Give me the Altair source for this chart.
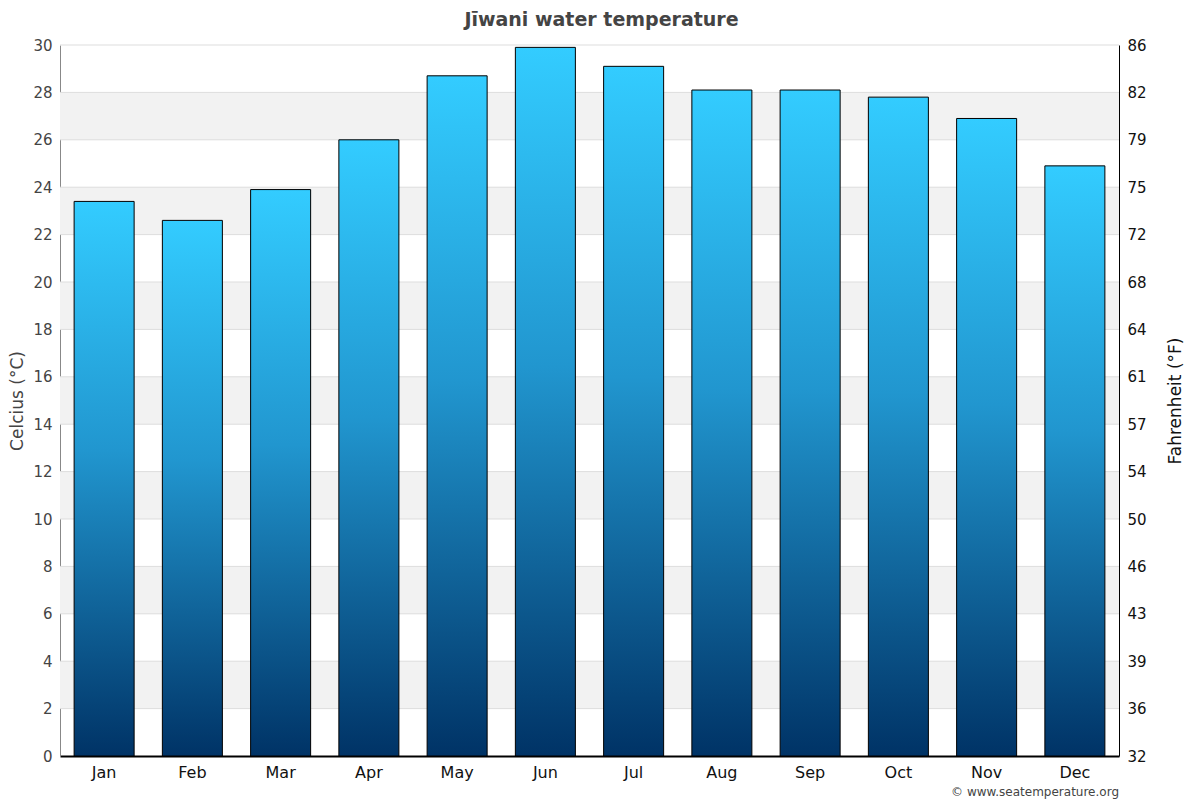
import altair as alt
import pandas as pd

# ── Data ──────────────────────────────────────────────────────────
MONTHS = ["Jan", "Feb", "Mar", "Apr", "May", "Jun",
          "Jul", "Aug", "Sep", "Oct", "Nov", "Dec"]
WATER_C = [23.4, 22.6, 23.9, 26.0, 28.7, 29.9,
           29.1, 28.1, 28.1, 27.8, 26.9, 24.9]
C_TICKS = [0, 2, 4, 6, 8, 10, 12, 14, 16, 18, 20, 22, 24, 26, 28, 30]

# ── Style tokens ──────────────────────────────────────────────────
FONT = "DejaVu Sans"
GREY_TXT = "#444444"
GRID = "#dddddd"
BAND = "#f2f2f2"
W, H = 1059, 711

bars_df = pd.DataFrame({"month": MONTHS, "temp": WATER_C})
band_df = pd.DataFrame({"lo": C_TICKS[1:-1:2], "hi": C_TICKS[2::2]})
grid_df = pd.DataFrame({"tick": C_TICKS[1:]})

y_scale = alt.Scale(domain=[0, 30], nice=False, zero=True)
x_enc = alt.X(
    "month:N",
    sort=MONTHS,
    scale=alt.Scale(paddingInner=0.32, paddingOuter=0.16),
    axis=alt.Axis(
        title=None, labelAngle=0, labelFont=FONT, labelFontSize=16,
        labelColor="#111111", ticks=False, domainColor="#000000",
        domainWidth=2, labelPadding=8,
    ),
)

bands = alt.Chart(band_df).mark_rect(color=BAND).encode(
    x=alt.value(0), x2=alt.value(W),
    y=alt.Y(
        "lo:Q", scale=y_scale,
        axis=alt.Axis(
            title="Celcius (°C)", values=C_TICKS, grid=False, ticks=False,
            labelFont=FONT, labelFontSize=15, labelColor=GREY_TXT,
            titleFont=FONT, titleFontSize=17, titleFontWeight="normal",
            titleColor=GREY_TXT, domainColor="#888888", labelPadding=8,
            titleX=-43, titleY=H / 2, titleBaseline="middle",
            titleAlign="center", titleAngle=270,
        ),
    ),
    y2="hi:Q",
)

gridlines = alt.Chart(grid_df).mark_rule(color=GRID, strokeWidth=1).encode(
    x=alt.value(0), x2=alt.value(W),
    y=alt.Y("tick:Q", scale=y_scale, axis=None),
)

bars = alt.Chart(bars_df).mark_bar(
    stroke="#000000", strokeWidth=1,
    color=alt.Gradient(
        gradient="linear",
        stops=[
            alt.GradientStop(color="#33ccff", offset=0),
            alt.GradientStop(color="#2196cf", offset=0.45),
            alt.GradientStop(color="#003366", offset=1),
        ],
        x1=0, x2=0, y1=0, y2=1,
    ),
).encode(
    x=x_enc,
    y=alt.Y("temp:Q", scale=y_scale, axis=None),
)

# Fahrenheit axis: same Celsius scale, labels converted
right_axis = alt.Chart(grid_df).mark_rule(opacity=0).encode(
    x=alt.value(0), x2=alt.value(1),
    y=alt.Y(
        "tick:Q", scale=y_scale,
        axis=alt.Axis(
            orient="right", title="Fahrenheit (°F)", values=C_TICKS,
            labelExpr="round(datum.value * 9 / 5 + 32)",
            grid=False, ticks=False, labelFont=FONT, labelFontSize=15,
            labelColor="#111111", titleFont=FONT, titleFontSize=17,
            titleFontWeight="normal", titleColor="#111111", titleAngle=270,
            titleX=56, titleY=H / 2, titleBaseline="middle",
            titleAlign="center",
            domainColor="#000000", labelPadding=8,
        ),
    ),
)

credit = alt.Chart(pd.DataFrame({"t": ["© www.seatemperature.org"]})).mark_text(
    font=FONT, fontSize=12, color=GREY_TXT, align="right", baseline="middle",
).encode(text="t:N", x=alt.value(W), y=alt.value(H + 36))

chart = (
    alt.layer(bands, gridlines, bars, right_axis, credit)
    .resolve_scale(y="independent")
    .properties(
        width=W, height=H,
        title=alt.TitleParams(
            "Jīwani water temperature", font=FONT, fontSize=19,
            fontWeight="bold", color=GREY_TXT, anchor="middle", offset=8,
            dx=12,
        ),
        autosize=alt.AutoSizeParams(type="none"),
        padding={"left": 52, "top": 37, "right": 70, "bottom": 44},
    )
    .configure_view(stroke=None)
)

chart.save("out.html", embed_options={"renderer": "svg", "actions": False})
